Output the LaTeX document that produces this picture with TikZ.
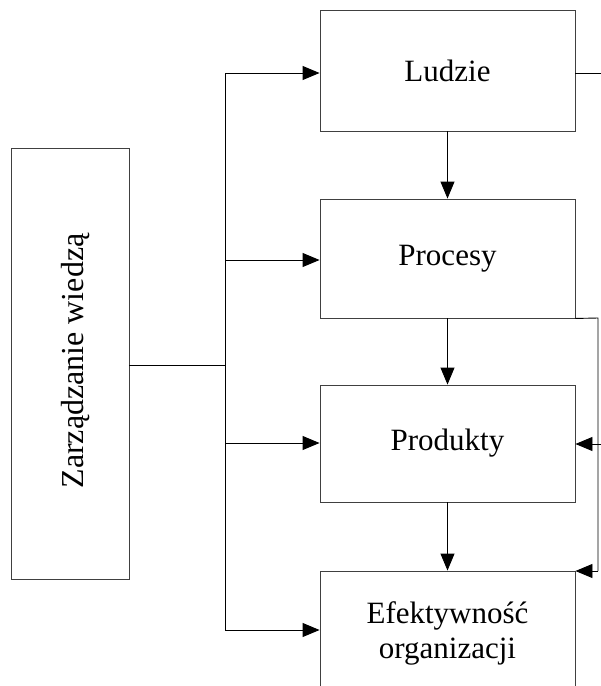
\documentclass[tikz,border=0pt]{standalone}
\usepackage{fontspec}
\setmainfont{Liberation Serif}
\usetikzlibrary{arrows.meta}
\begin{document}
\begin{tikzpicture}[x=1pt,y=-1pt,
  box/.style={draw=black!75,line width=0.9pt,rectangle,inner sep=0pt,
    minimum width=255pt,font=\fontsize{31}{35}\selectfont},
  link/.style={draw=black,line width=0.9pt},
  arr/.style={link,-{Triangle[length=17pt,width=14pt]}}]
\clip (0,0) rectangle (601,686);
\fill[white] (0,0) rectangle (601,686);
% main box on the left
\node[box,minimum width=118pt,minimum height=431pt] (zw) at (70,363.5) {};
\node[font=\fontsize{32}{36}\selectfont,rotate=90] (zwt) at (76,361) {Zarządzanie wiedzą};
% column of boxes
\node[box,minimum height=121pt] (lud) at (447.5,70.5) {Ludzie};
\node[box,minimum height=119pt] (pro) at (447.5,258.5) {Procesy};
\node[box,minimum height=117pt] (prd) at (447.5,443.5) {Produkty};
\node[box,minimum height=124pt,align=center] (eff) at (447.5,633) {Efektywność\\ organizacji};
% distribution trunk
\coordinate (tj) at (225,365);
\coordinate (tt) at (225,73);
\coordinate (tb) at (225,630);
\draw[link] (zw.east |- tj) -- (tj);
\draw[link] (tt) -- (tb);
\draw[arr] (tt) -- (lud.west |- tt);
\draw[arr] (225,260) -- (pro.west |- 0,260);
\draw[arr] (225,443) -- (prd.west |- 0,443);
\draw[arr] (tb) -- (eff.west |- tb);
% vertical flow
\draw[arr] (lud.south) -- (pro.north);
\draw[arr] (pro.south) -- (prd.north);
\draw[arr] (prd.south) -- (eff.north);
% feedback lines on the right
\coordinate (lr) at (610,73);
\draw[link] (lud.east |- lr) -- (lr);
\coordinate (pr) at (610,444);
\draw[arr] (pr) -- (prd.east |- pr);
\coordinate (fa) at (598,318);
\coordinate (fb) at (598,571);
\draw[link] (pro.south east) -- (fa) -- (fb);
\draw[arr] (fb) -- (eff.east |- fb);
\end{tikzpicture}
\end{document}
